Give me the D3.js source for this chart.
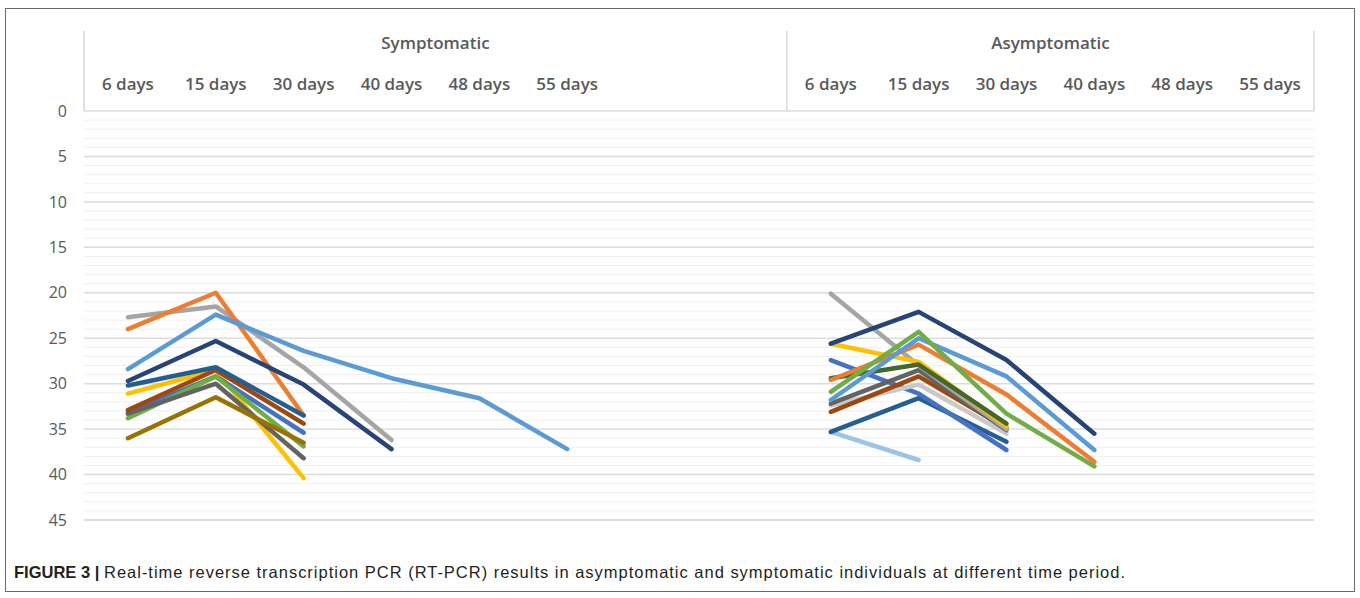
<!DOCTYPE html>
<html>
<head>
<meta charset="utf-8">
<script src="https://cdn.jsdelivr.net/npm/d3@7"></script>
<style>
  body { margin: 0; background: #fff; }
  svg text { font-family: "Open Sans", "DejaVu Sans", sans-serif; }
</style>
</head>
<body>
<svg id="chart" width="1360" height="598"></svg>
<script>
// groups and time points
const groups = ["Symptomatic", "Asymptomatic"];
const dayLabels = ["6 days", "15 days", "30 days", "40 days", "48 days", "55 days"];
// left group has 2 empty slots after the 6 labelled ones
const slots = ["S6", "S15", "S30", "S40", "S48", "S55", "S_blank1", "S_blank2",
               "A6", "A15", "A30", "A40", "A48", "A55"];
const yTicks = [0, 5, 10, 15, 20, 25, 30, 35, 40, 45];

// Ct values, one array per individual (values by time point)
const symptomatic = [
  [22.7, 21.5, 28.2, 36.2],
  [24.0, 20.0, 33.5],
  [28.4, 22.4, 26.4, 29.4, 31.6, 37.2],
  [29.7, 25.3, 30.1, 37.2],
  [31.1, 28.5, 40.4],
  [33.2, 29.2, 35.4],
  [33.8, 29.2, 36.9],
  [33.3, 30.0, 38.2],
  [36.0, 31.5, 36.5],
  [32.9, 28.5, 34.4],
  [30.2, 28.2, 33.5]
];
const symptomaticColors = ["#a5a5a5", "#ed7d31", "#5b9bd5", "#264478", "#ffc000", "#4472c4",
                           "#70ad47", "#636363", "#997300", "#9e480e", "#255e91"];

const asymptomatic = [
  [35.3, 38.4],
  [35.3, 31.6, 36.4],
  [27.4, 31.1, 37.3],
  [32.4, 30.1, 35.5],
  [33.1, 29.2, 34.9],
  [32.2, 28.5, 35.1],
  [20.1, 28.0, 35.0],
  [25.6, 27.6, 34.7],
  [29.4, 27.9, 34.4],
  [29.6, 25.7, 31.2, 38.6],
  [31.8, 25.0, 29.2, 37.3],
  [30.9, 24.3, 33.3, 39.1],
  [25.6, 22.1, 27.4, 35.5]
];
const asymptomaticColors = ["#9dc3e6", "#255e91", "#4472c4", "#c9c9c9", "#9e480e", "#636363",
                            "#a5a5a5", "#ffc000", "#43682b", "#ed7d31", "#5b9bd5", "#70ad47", "#264478"];

const svg = d3.select("#chart");

// outer frame
svg.append("rect")
  .attr("x", 5.5).attr("y", 8.5)
  .attr("width", 1349).attr("height", 583)
  .attr("fill", "none")
  .attr("stroke", "#6b6b6b")
  .attr("stroke-width", 1);

const x = d3.scaleBand().domain(slots).range([84, 1314]);
const y = d3.scaleLinear().domain([0, 45]).range([111, 520]);

// minor gridlines every 1
svg.append("g")
  .selectAll("line")
  .data(d3.range(0, 46).filter(v => v % 5 !== 0))
  .join("line")
  .attr("x1", 84).attr("x2", 1314)
  .attr("y1", d => y(d)).attr("y2", d => y(d))
  .attr("stroke", "#f0f0f0")
  .attr("stroke-width", 1);

// major gridlines every 5
svg.append("g")
  .selectAll("line")
  .data(yTicks)
  .join("line")
  .attr("x1", 84).attr("x2", 1314)
  .attr("y1", d => y(d)).attr("y2", d => y(d))
  .attr("stroke", d => d === 45 ? "#d0d0d0" : "#dcdcdc")
  .attr("stroke-width", 1.5);

// y axis labels
const yAxis = svg.append("g")
  .attr("transform", "translate(67,0)")
  .call(d3.axisLeft(y).tickValues(yTicks).tickSize(0).tickPadding(0));
yAxis.select(".domain").remove();
yAxis.selectAll("text")
  .attr("fill", "#595959")
  .style("font-size", "16px");

// header boxes
const headerTop = 31;
[84, x("A6"), 1314].forEach(px => {
  svg.append("line")
    .attr("x1", px).attr("x2", px)
    .attr("y1", headerTop).attr("y2", y(0))
    .attr("stroke", "#d9d9d9")
    .attr("stroke-width", 1.5);
});

const groupSpans = [
  [x("S6"), x("A6")],
  [x("A6"), 1314]
];
svg.append("g")
  .selectAll("text")
  .data(groups)
  .join("text")
  .attr("x", (d, i) => (groupSpans[i][0] + groupSpans[i][1]) / 2)
  .attr("y", 49)
  .attr("text-anchor", "middle")
  .attr("fill", "#595959")
  .style("font-size", "17px")
  .style("font-weight", "600")
  .text(d => d);

const dayKeys = [slots.slice(0, 6), slots.slice(8, 14)];
dayKeys.forEach(keys => {
  svg.append("g")
    .selectAll("text")
    .data(keys)
    .join("text")
    .attr("x", d => x(d) + x.bandwidth() / 2)
    .attr("y", 90)
    .attr("text-anchor", "middle")
    .attr("fill", "#595959")
    .style("font-size", "17px")
    .style("font-weight", "600")
    .text((d, i) => dayLabels[i]);
});

// lines
const line = d3.line()
  .x(d => d[0])
  .y(d => y(d[1]));

function drawGroup(series, colors, keys) {
  svg.append("g")
    .selectAll("path")
    .data(series)
    .join("path")
    .attr("d", s => line(s.map((v, i) => [x(keys[i]) + x.bandwidth() / 2, v])))
    .attr("fill", "none")
    .attr("stroke", (s, i) => colors[i])
    .attr("stroke-width", 4.5)
    .attr("stroke-linejoin", "round")
    .attr("stroke-linecap", "round");
}

drawGroup(symptomatic, symptomaticColors, dayKeys[0]);
drawGroup(asymptomatic, asymptomaticColors, dayKeys[1]);

// caption
svg.append("text")
  .attr("x", 14)
  .attr("y", 578)
  .attr("fill", "#231f20")
  .style("font-family", "'Liberation Sans', Arial, sans-serif")
  .style("font-size", "16.5px")
  .style("font-weight", "bold")
  .text("FIGURE 3 |");
svg.append("text")
  .attr("x", 104)
  .attr("y", 578)
  .attr("fill", "#231f20")
  .attr("textLength", 1021)
  .attr("lengthAdjust", "spacing")
  .style("font-family", "'Liberation Sans', Arial, sans-serif")
  .style("font-size", "16.5px")
  .text("Real-time reverse transcription PCR (RT-PCR) results in asymptomatic and symptomatic individuals at different time period.");
</script>
</body>
</html>
